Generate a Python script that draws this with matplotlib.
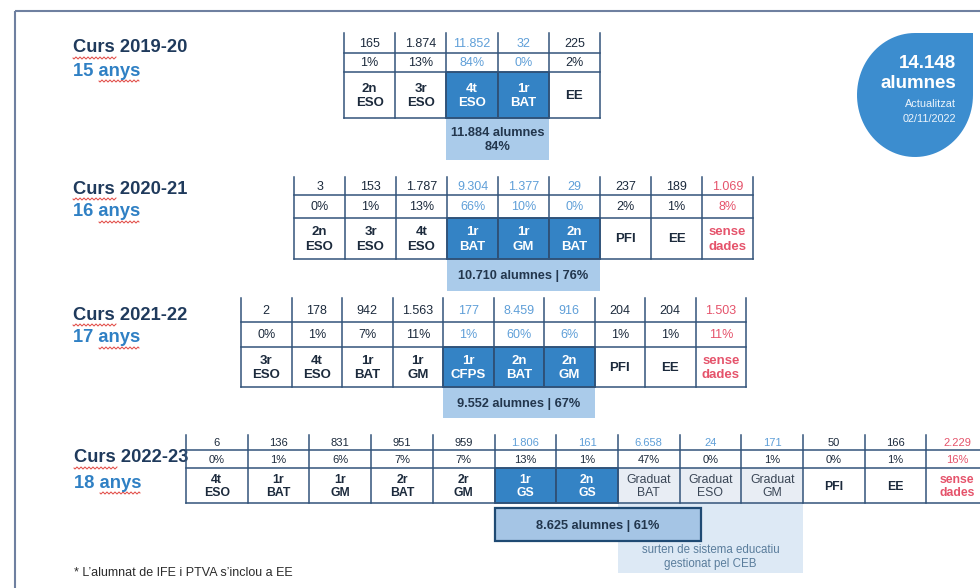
import numpy as np
import matplotlib
matplotlib.use('Agg')
import matplotlib.pyplot as plt
from matplotlib.patches import Rectangle, PathPatch
from matplotlib.path import Path

plt.rcParams['font.family'] = ['Liberation Sans Narrow', 'Liberation Sans', 'DejaVu Sans']

# --- dades ---
cursos = ['Curs 2019-20', 'Curs 2020-21', 'Curs 2021-22', 'Curs 2022-23']
edats = ['15 anys', '16 anys', '17 anys', '18 anys']

alumnes_1920 = [165, 1874, 11852, 32, 225]
pct_1920 = [1, 13, 84, 0, 2]
nivells_1920 = ['2n\nESO', '3r\nESO', '4t\nESO', '1r\nBAT', 'EE']
idoni_1920 = [2, 3]
resum_1920 = '11.884 alumnes\n84%'

alumnes_2021 = [3, 153, 1787, 9304, 1377, 29, 237, 189, 1069]
pct_2021 = [0, 1, 13, 66, 10, 0, 2, 1, 8]
nivells_2021 = ['2n\nESO', '3r\nESO', '4t\nESO', '1r\nBAT', '1r\nGM', '2n\nBAT', 'PFI', 'EE', 'sense\ndades']
idoni_2021 = [3, 4, 5]
resum_2021 = '10.710 alumnes | 76%'

alumnes_2122 = [2, 178, 942, 1563, 177, 8459, 916, 204, 204, 1503]
pct_2122 = [0, 1, 7, 11, 1, 60, 6, 1, 1, 11]
nivells_2122 = ['3r\nESO', '4t\nESO', '1r\nBAT', '1r\nGM', '1r\nCFPS', '2n\nBAT', '2n\nGM', 'PFI', 'EE', 'sense\ndades']
idoni_2122 = [4, 5, 6]
resum_2122 = '9.552 alumnes | 67%'

alumnes_2223 = [6, 136, 831, 951, 959, 1806, 161, 6658, 24, 171, 50, 166, 2229]
pct_2223 = [0, 1, 6, 7, 7, 13, 1, 47, 0, 1, 0, 1, 16]
nivells_2223 = ['4t\nESO', '1r\nBAT', '1r\nGM', '2r\nBAT', '2r\nGM', '1r\nGS', '2n\nGS',
                'Graduat\nBAT', 'Graduat\nESO', 'Graduat\nGM', 'PFI', 'EE', 'sense\ndades']
idoni_2223 = [5, 6]
graduats_2223 = [7, 8, 9]
resum_2223 = '8.625 alumnes | 61%'
nota_ceb = 'surten de sistema educatiu\ngestionat pel CEB'

total_alumnes = 14148
actualitzat = '02/11/2022'
nota_peu = '* L\u2019alumnat de IFE i PTVA s\u2019inclou a EE'

# --- colors ---
LINIA = '#33547a'
FOSC = '#1c2a3c'
BLAU = '#3483c5'
BLAU_CLAR = '#5f9fd8'
RESUM = '#aacbea'
VERMELL = '#e5536b'
TITOL = '#1f3a5c'
ANYS = '#2f80c4'


def fmt(n):
    return f'{n:,}'.replace(',', '.')


def ondulat(ax, x0, x1, y):
    xs = np.linspace(x0, x1, 60)
    ax.plot(xs, y + 1.0 * np.sin((xs - x0) * np.pi / 2), color='#e0453f', lw=0.7)


def titol(ax, x, y, curs, edat, dy=23, fs=13.2):
    ax.text(x, y, curs, fontsize=fs, fontweight='bold', color=TITOL, va='center', ha='left')
    ax.text(x, y + dy, edat, fontsize=fs, fontweight='bold', color=ANYS, va='center', ha='left')
    ondulat(ax, x, x + 43, y + 10)
    ondulat(ax, x + 26, x + 66, y + dy + 10)


def taula(ax, left, cw, rows, vals, pcts, labels, hl, grad=(), fs=9, fs_lab=9.5,
          pct_blue=True, ls=1.25):
    n = len(vals)
    top, r1, r2, bot = rows
    right = left + n * cw
    for j in range(n):
        x0 = left + j * cw
        xc = x0 + cw / 2
        if j in grad:
            ax.add_patch(Rectangle((x0, r2), cw, bot - r2, facecolor='#e8edf4', edgecolor='none', zorder=1))
        if j in hl:
            ax.add_patch(Rectangle((x0, r2), cw, bot - r2, facecolor=BLAU, edgecolor='#1f4a73', lw=1.2, zorder=2))
        red = labels[j].startswith('sense')
        c_val = VERMELL if red else (BLAU_CLAR if (j in hl or j in grad) else FOSC)
        c_pct = VERMELL if red else (BLAU_CLAR if (pct_blue and j in hl) else FOSC)
        ax.text(xc, (top + r1) / 2 + 1, fmt(vals[j]), ha='center', va='center', fontsize=fs, color=c_val, zorder=4)
        ax.text(xc, (r1 + r2) / 2 + 1, f'{pcts[j]}%', ha='center', va='center', fontsize=fs, color=c_pct, zorder=4)
        if j in hl:
            c_lab, w = 'white', 'bold'
        elif j in grad:
            c_lab, w = '#3a4656', 'normal'
        elif red:
            c_lab, w = VERMELL, 'bold'
        else:
            c_lab, w = FOSC, 'bold'
        ax.text(xc, (r2 + bot) / 2 + 1, labels[j], ha='center', va='center', fontsize=fs_lab,
                color=c_lab, fontweight=w, linespacing=ls, zorder=4)
    for j in range(n + 1):
        x = left + j * cw
        ax.plot([x, x], [top, bot], color=LINIA, lw=1.1, zorder=3)
    for y in (r1, r2, bot):
        ax.plot([left, right], [y, y], color=LINIA, lw=1.1, zorder=3)


def resum(ax, x0, x1, y0, y1, text, fs=9.2, **kw):
    ax.add_patch(Rectangle((x0, y0), x1 - x0, y1 - y0, facecolor=kw.get('fc', RESUM),
                           edgecolor=kw.get('ec', 'none'), lw=kw.get('lw', 0), zorder=kw.get('z', 1)))
    ax.text((x0 + x1) / 2, (y0 + y1) / 2 + 1, text, ha='center', va='center', fontsize=fs,
            fontweight='bold', color='#22364d', linespacing=1.2, zorder=kw.get('z', 1) + 1)


fig = plt.figure(figsize=(9.8, 5.88), dpi=100)
ax = fig.add_axes([0, 0, 1, 1])
ax.set_xlim(0, 980)
ax.set_ylim(588, 0)
ax.axis('off')

# marc de la diapositiva
ax.add_patch(Rectangle((15, 11), 1000, 600, facecolor='none', edgecolor='#6f80a0', lw=1.5))

# 2019-20
titol(ax, 73, 48, cursos[0], edats[0])
c1, w1 = 344, 51.2
taula(ax, c1, w1, [33, 53, 72, 118], alumnes_1920, pct_1920, nivells_1920, idoni_1920)
resum(ax, c1 + 2 * w1, c1 + 4 * w1, 118, 160, resum_1920)

# 2020-21
titol(ax, 73, 189, cursos[1], edats[1])
c2, w2 = 294, 51.0
taula(ax, c2, w2, [177, 195, 218, 259], alumnes_2021, pct_2021, nivells_2021, idoni_2021)
resum(ax, c2 + 3 * w2, c2 + 6 * w2, 259, 291, resum_2021)

# 2021-22
titol(ax, 73, 315, cursos[2], edats[2])
c3, w3 = 241, 50.5
taula(ax, c3, w3, [298, 322, 347, 387], alumnes_2122, pct_2122, nivells_2122, idoni_2122)
resum(ax, c3 + 4 * w3, c3 + 7 * w3, 387, 418, resum_2122)

# 2022-23
titol(ax, 74, 458, cursos[3], edats[3], dy=25)
c4, w4 = 186, 61.7
taula(ax, c4, w4, [435, 450, 468, 503], alumnes_2223, pct_2223, nivells_2223, idoni_2223,
      grad=graduats_2223, fs=8, fs_lab=8.8, pct_blue=False, ls=1.05)
ax.add_patch(Rectangle((c4 + 7 * w4, 503), 3 * w4, 70, facecolor='#dde9f5', edgecolor='none', zorder=1))
ax.text(c4 + 8.5 * w4, 557, nota_ceb, ha='center', va='center', fontsize=8.3, color='#5a7d9c',
        linespacing=1.3, zorder=2)
resum(ax, c4 + 5 * w4, c4 + 8.35 * w4, 508, 541, resum_2223, fc='#a5c5e5', ec='#1f4a73', lw=1.6, z=3)

# bombolla amb el total
cx, cy, rx, ry = 915, 95, 58, 62
t = np.linspace(np.pi / 2, 2 * np.pi, 80)
pts = [(cx + rx * np.cos(a), cy - ry * np.sin(a)) for a in t]
pts = [(cx + rx, cy - ry)] + pts + [(cx + rx, cy - ry)]
codes = [Path.MOVETO] + [Path.LINETO] * (len(pts) - 2) + [Path.CLOSEPOLY]
ax.add_patch(PathPatch(Path(pts, codes), facecolor='#3c8dcf', edgecolor='none', zorder=2))
ax.text(956, 64, fmt(total_alumnes), ha='right', va='center', fontsize=13.5, fontweight='bold', color='white', zorder=3)
ax.text(956, 84, 'alumnes', ha='right', va='center', fontsize=13.5, fontweight='bold', color='white', zorder=3)
ax.text(956, 104, 'Actualitzat', ha='right', va='center', fontsize=7.8, color='#eef5fc', zorder=3)
ax.text(956, 119, actualitzat, ha='right', va='center', fontsize=7.8, color='#eef5fc', zorder=3)

ax.text(74, 573, nota_peu, ha='left', va='center', fontsize=9, color='#2b2b2b')

fig.savefig('out.png', dpi=100)
